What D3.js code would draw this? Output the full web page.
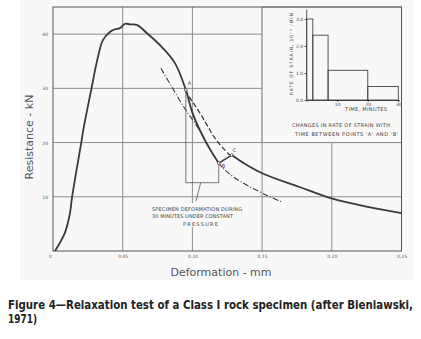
<!DOCTYPE html>
<html>
<head>
<meta charset="utf-8">
<script src="https://cdn.jsdelivr.net/npm/d3@7"></script>
<style>
  body { margin: 0; background: #fff; }
  text { font-family: "DejaVu Sans", sans-serif; }
</style>
</head>
<body>
<svg id="chart"></svg>
<script>
// data: [deformation mm, resistance kN]
var loadCurve = [[0.0014,0],[0.0086,3.4],[0.0122,7.0],[0.0136,9.8],[0.0206,20.5],[0.0217,22.3],
  [0.0277,30.1],[0.0313,34.7],[0.0358,38.9],[0.0408,40.4],[0.0444,40.9],[0.048,41.1],[0.0516,41.9],
  [0.0552,41.8],[0.0602,41.7],[0.0673,40.2],[0.0766,38.0],[0.0874,34.7],[0.0953,29.7],
  [0.1003,25.3],[0.1101,19.9],[0.1189,16.2]]
var reloadCurve = [[0.1282,17.7],[0.1363,16.3],[0.1504,14.3],[0.1769,11.8],[0.1999,9.7],[0.2247,8.2],[0.25,7.0]]
var dashedCurve = [[0.0953,29.7],[0.0969,28.8],[0.1053,25.5],[0.1173,20.4],[0.1268,17.7]]
var dashDotCurve = [[0.0774,33.7],[0.094,26.5],[0.1053,22.2],[0.1189,16.2],[0.1292,13.7],[0.1531,10.3],[0.1638,9.1]]
var pointNames = ["A", "B", "C"]
var pointValues = [[0.0953,29.7],[0.1189,16.2],[0.1282,17.7]]
var xTicks = [0, 0.05, 0.10, 0.15, 0.20, 0.25]
var yTicks = [10, 20, 30, 40]

// inset: rate of strain between A and B
var insetStart = [0, 2, 7, 20]
var insetEnd = [2, 7, 20, 30]
var insetRate = [3, 2.4, 1.1, 0.5]
var insetXTicks = [10, 20, 30]
var insetYTicks = [0, 1, 2, 3]

var width = 421, height = 339
var margin = {top: 7, right: 19, bottom: 88, left: 53}
var bg = "#f8f8f8", ink = "#3a3a3a", gridCol = "#8c8c8c"

var svg = d3.select("#chart").attr("width", width).attr("height", height)

svg.append("rect").attr("x", 20).attr("y", 0).attr("width", 394).attr("height", 280).attr("fill", bg)

var x = d3.scaleLinear().domain([0, 0.25]).range([margin.left, width - margin.right - 0.5])
var y = d3.scaleLinear().domain([0, 45]).range([height - margin.bottom, margin.top])

// grid
svg.append("g").selectAll("line").data([0.05, 0.10, 0.15, 0.20]).enter().append("line")
  .attr("x1", d => x(d)).attr("x2", d => x(d)).attr("y1", y(0)).attr("y2", y(45))
  .attr("stroke", gridCol).attr("stroke-width", 1)
svg.append("g").selectAll("line").data(yTicks).enter().append("line")
  .attr("x1", x(0)).attr("x2", x(0.25)).attr("y1", d => y(d)).attr("y2", d => y(d))
  .attr("stroke", gridCol).attr("stroke-width", 1)

// inset panel covers the upper right cells
svg.append("rect").attr("x", x(0.15)).attr("y", y(45)).attr("width", x(0.25) - x(0.15)).attr("height", y(20) - y(45))
  .attr("fill", bg).attr("stroke", gridCol)

// frame
svg.append("rect").attr("x", x(0)).attr("y", y(45)).attr("width", x(0.25) - x(0)).attr("height", y(0) - y(45))
  .attr("fill", "none").attr("stroke", "#555").attr("stroke-width", 1)

// axes (labels only)
var xAxis = svg.append("g").attr("transform", "translate(0," + (y(0) + 1) + ")")
  .call(d3.axisBottom(x).tickValues(xTicks).tickSize(0).tickFormat(d => d === 0 ? "0" : d3.format(".2f")(d)))
xAxis.select(".domain").remove()
xAxis.selectAll("text").attr("font-size", 4.5).attr("fill", "#555")
xAxis.select(".tick text").attr("dx", -3)

var yAxis = svg.append("g").attr("transform", "translate(" + (x(0) - 2) + ",0)")
  .call(d3.axisLeft(y).tickValues(yTicks).tickSize(0))
yAxis.select(".domain").remove()
yAxis.selectAll("text").attr("font-size", 4.5).attr("fill", "#555")

// curves
var smooth = d3.line().x(d => x(d[0])).y(d => y(d[1])).curve(d3.curveCatmullRom)
var straight = d3.line().x(d => x(d[0])).y(d => y(d[1]))

svg.append("path").datum(dashDotCurve).attr("d", smooth).attr("fill", "none")
  .attr("stroke", ink).attr("stroke-width", 1.1).attr("stroke-dasharray", "6,2,1,2")
svg.append("path").datum(dashedCurve).attr("d", smooth).attr("fill", "none")
  .attr("stroke", ink).attr("stroke-width", 1.3).attr("stroke-dasharray", "5,2.5")
svg.append("path").datum(loadCurve).attr("d", smooth).attr("fill", "none")
  .attr("stroke", ink).attr("stroke-width", 1.8)
svg.append("path").datum([pointValues[1], pointValues[2]]).attr("d", straight).attr("fill", "none")
  .attr("stroke", ink).attr("stroke-width", 1.5)
svg.append("path").datum(reloadCurve).attr("d", smooth).attr("fill", "none")
  .attr("stroke", ink).attr("stroke-width", 1.8)

// bracket showing deformation during 30 minutes
var pA = pointValues[0], pB = pointValues[1]
svg.append("path").datum([[pA[0], pA[1]], [pA[0], 12.6], [pB[0], 12.6], [pB[0], pB[1]]])
  .attr("d", straight).attr("fill", "none").attr("stroke", "#555").attr("stroke-width", 0.8)
svg.append("path").datum([[0.106, 12.6], [0.1025, 9.2]])
  .attr("d", straight).attr("fill", "none").attr("stroke", "#555").attr("stroke-width", 0.8)

svg.append("g").selectAll("circle").data(pointValues).enter().append("circle")
  .attr("cx", d => x(d[0])).attr("cy", d => y(d[1])).attr("r", 1.4)
  .attr("fill", bg).attr("stroke", ink).attr("stroke-width", 0.7)
var labelOffsets = [[2, -5], [3, 5], [1, -3]]
svg.append("g").selectAll("text").data(pointNames).enter().append("text")
  .attr("x", (d, i) => x(pointValues[i][0]) + labelOffsets[i][0])
  .attr("y", (d, i) => y(pointValues[i][1]) + labelOffsets[i][1])
  .attr("font-size", 5).attr("fill", "#444").text(d => d)

// note under the bracket
svg.append("rect").attr("x", 150).attr("y", 203).attr("width", 94).attr("height", 24).attr("fill", bg)
var note = svg.append("g").attr("font-size", 5).attr("fill", "#444")
note.append("text").attr("x", 152).attr("y", 211).attr("textLength", 90).text("SPECIMEN DEFORMATION DURING")
note.append("text").attr("x", 152).attr("y", 218).attr("textLength", 81).text("30 MINUTES UNDER CONSTANT")
note.append("text").attr("x", 183).attr("y", 226).attr("textLength", 35).text("PRESSURE")

// axis titles
svg.append("text").attr("transform", "translate(33,137) rotate(-90)").attr("text-anchor", "middle")
  .attr("font-family", "Open Sans").attr("font-size", 11).attr("fill", "#555").text("Resistance - kN")
svg.append("text").attr("x", 221).attr("y", 276).attr("text-anchor", "middle")
  .attr("font-family", "Open Sans").attr("font-size", 11).attr("fill", "#555").text("Deformation - mm")

// inset chart
var xi = d3.scaleLinear().domain([0, 30]).range([306.7, 398.3])
var yi = d3.scaleLinear().domain([0, 3]).range([100, 19])
var inset = svg.append("g")
inset.selectAll("rect").data(insetRate).enter().append("rect")
  .attr("x", (d, i) => xi(insetStart[i])).attr("width", (d, i) => xi(insetEnd[i]) - xi(insetStart[i]))
  .attr("y", d => yi(d)).attr("height", d => yi(0) - yi(d))
  .attr("fill", "none").attr("stroke", "#444").attr("stroke-width", 0.9)
var iy = inset.append("g").attr("transform", "translate(" + xi(0) + ",0)")
  .call(d3.axisLeft(yi).tickValues(insetYTicks).tickSize(2).tickPadding(1.5))
iy.select(".domain").remove()
iy.selectAll("text").attr("font-size", 4.5).attr("fill", "#444")
iy.selectAll("line").attr("stroke", "#444")
inset.append("line").attr("x1", xi(0)).attr("x2", xi(0)).attr("y1", yi(0)).attr("y2", yi(3.35))
  .attr("stroke", "#444").attr("stroke-width", 0.9)
var ix = inset.append("g").attr("transform", "translate(0," + yi(0) + ")")
  .call(d3.axisBottom(xi).tickValues(insetXTicks).tickSize(1.5).tickPadding(1))
ix.select(".domain").attr("stroke", "#444")
ix.selectAll("text").attr("font-size", 4.5).attr("fill", "#444")
inset.append("text").attr("x", 366).attr("y", 111).attr("text-anchor", "middle").attr("font-size", 5)
  .attr("fill", "#444").attr("textLength", 42).text("TIME, MINUTES")
inset.append("text").attr("transform", "translate(293,54) rotate(-90)").attr("text-anchor", "middle")
  .attr("font-size", 4.6).attr("fill", "#444").attr("textLength", 82).text("RATE OF STRAIN, 10⁻⁶ /MIN")
inset.append("text").attr("x", 292).attr("y", 127).attr("font-size", 5).attr("fill", "#444")
  .attr("textLength", 98).text("CHANGES IN RATE OF STRAIN WITH")
inset.append("text").attr("x", 295).attr("y", 135.5).attr("font-size", 5).attr("fill", "#444")
  .attr("textLength", 103).text("TIME BETWEEN POINTS 'A' AND 'B'")

// caption (condensed bold, squeezed horizontally)
var cap = svg.append("g").attr("transform", "translate(8,0) scale(0.86,1)")
  .attr("font-family", "Liberation Sans").attr("font-weight", "bold")
  .attr("font-size", 12).attr("fill", "#222")
cap.append("text").attr("x", 0).attr("y", 309).attr("textLength", 405 / 0.86).attr("lengthAdjust", "spacingAndGlyphs")
  .text("Figure 4\u2014Relaxation test of a Class I rock specimen (after Bieniawski,")
cap.append("text").attr("x", 0).attr("y", 323).attr("textLength", 29 / 0.86).attr("lengthAdjust", "spacingAndGlyphs")
  .text("1971)")
</script>
</body>
</html>
